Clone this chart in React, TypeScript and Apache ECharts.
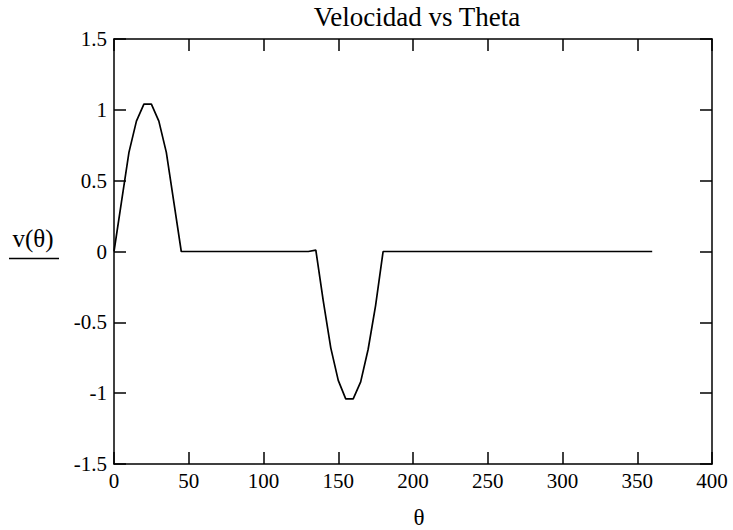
import React, { useEffect, useRef } from "react";
import * as echarts from "echarts";

// θ in degrees and v(θ)
const thetaDeg = [0, 5, 10, 15, 20, 25, 30, 35, 40, 45, 130, 135, 140, 145, 150, 155, 160, 165, 170, 175, 180, 360];
const velocity = [0, 0.35, 0.7, 0.92, 1.04, 1.04, 0.92, 0.7, 0.35, 0, 0, 0.01, -0.35, -0.68, -0.91, -1.04, -1.04, -0.92, -0.69, -0.38, 0, 0];

const titleText = "Velocidad vs Theta";
const xName = "θ";
const yName = "v(θ)";

const FONT = "'Liberation Serif', 'Times New Roman', serif";

export default function App() {
  const ref = useRef<HTMLDivElement>(null);

  useEffect(() => {
    if (!ref.current) return;
    const chart = echarts.init(ref.current, undefined, { renderer: "svg" });
    const data = thetaDeg.map((t, i) => [t, velocity[i]]);
    const lineStyle = { color: "#000", width: 1.5 };
    const tick = { show: true, inside: true, length: 12, lineStyle: { color: "#000", width: 1.5 } };
    const label = { color: "#000", fontFamily: FONT, fontSize: 21 };

    chart.setOption({
      animation: false,
      backgroundColor: "#fff",
      grid: { left: 114, right: 21, top: 39, bottom: 66, outerBoundsMode: "none" },
      xAxis: [
        {
          type: "value",
          min: 0,
          max: 400,
          interval: 50,
          position: "bottom",
          axisLine: { show: true, onZero: false, lineStyle },
          axisTick: tick,
          axisLabel: { ...label, margin: 6 },
          splitLine: { show: false },
        },
        {
          type: "value",
          min: 0,
          max: 400,
          interval: 50,
          position: "top",
          axisLine: { show: true, onZero: false, lineStyle },
          axisTick: tick,
          axisLabel: { show: false },
          splitLine: { show: false },
        },
      ],
      yAxis: [
        {
          type: "value",
          min: -1.5,
          max: 1.5,
          interval: 0.5,
          position: "left",
          axisLine: { show: true, onZero: false, lineStyle },
          axisTick: tick,
          axisLabel: { ...label, margin: 7, padding: [3, 0, 0, 0] },
          splitLine: { show: false },
        },
        {
          type: "value",
          min: -1.5,
          max: 1.5,
          interval: 0.5,
          position: "right",
          axisLine: { show: true, onZero: false, lineStyle },
          axisTick: tick,
          axisLabel: { show: false },
          splitLine: { show: false },
        },
      ],
      series: [
        {
          type: "line",
          data,
          xAxisIndex: 0,
          yAxisIndex: 0,
          showSymbol: false,
          symbol: "none",
          lineStyle: { color: "#000", width: 1.7 },
        },
      ],
      graphic: [
        {
          type: "text",
          x: 417,
          y: 16.5,
          style: {
            text: titleText,
            fontFamily: FONT,
            fontSize: 27,
            fill: "#000",
            align: "center",
            verticalAlign: "middle",
          },
        },
        {
          type: "text",
          x: 419,
          y: 517,
          style: {
            text: xName,
            fontFamily: FONT,
            fontSize: 23,
            fill: "#000",
            align: "center",
            verticalAlign: "middle",
          },
        },
        {
          type: "text",
          x: 33,
          y: 238,
          style: {
            text: yName,
            fontFamily: FONT,
            fontSize: 25,
            fill: "#000",
            align: "center",
            verticalAlign: "middle",
          },
        },
        {
          type: "line",
          shape: { x1: 9, y1: 258.5, x2: 59, y2: 258.5 },
          style: { stroke: "#000", lineWidth: 1.5 },
        },
      ],
    });
    return () => chart.dispose();
  }, []);

  return (
    <div
      ref={ref}
      style={{ position: "absolute", left: 0, top: 0, width: 733, height: 530, background: "#fff" }}
    />
  );
}
